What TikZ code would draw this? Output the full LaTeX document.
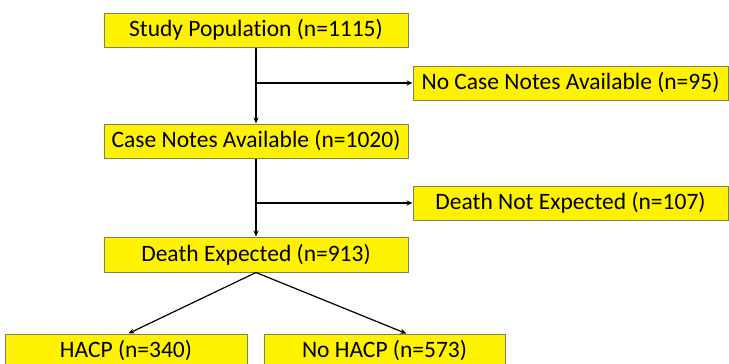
\documentclass[tikz,border=0pt]{standalone}
\usepackage{fontspec}
\setmainfont[Ligatures=NoCommon]{Carlito}
\usetikzlibrary{arrows.meta,calc}
\definecolor{boxline}{RGB}{130,130,80}
\tikzset{
  fbox/.style={draw=boxline, line width=1pt, fill=yellow, inner sep=0pt,
    minimum height=34pt, font=\fontsize{23.5}{26}\selectfont},
  conn/.style={line width=1.2pt, -{Stealth[length=6pt,width=5pt]}}
}
\begin{document}
\begin{tikzpicture}[x=1pt,y=-1pt]
\useasboundingbox (0,0) rectangle (729,364);
\clip (0,0) rectangle (729,364);
\node[fbox, minimum width=304pt] (sp) at (256,30) {Study Population (n=1115)};
\node[fbox, minimum width=315pt] (ncn) at (570.5,83) {No Case Notes Available (n=95)};
\node[fbox, minimum width=304pt] (cna) at (256,141) {Case Notes Available (n=1020)};
\node[fbox, minimum width=315pt] (dne) at (570.5,203) {Death Not Expected (n=107)};
\node[fbox, minimum width=304pt, minimum height=35pt] (de) at (256,254.5) {Death Expected (n=913)};
\node[fbox, minimum width=242pt, minimum height=34pt] (hacp) at (126,351) {HACP (n=340)};
\node[fbox, minimum width=241pt, minimum height=34pt] (nohacp) at (384.5,351) {No HACP (n=573)};
\coordinate (b1) at (256,83);
\coordinate (b2) at (256,203);
\draw[conn] (sp.south) -- (cna.north);
\draw[conn] (b1) -- (ncn.west);
\draw[conn] (cna.south) -- (de.north);
\draw[conn] (b2) -- (dne.west);
\draw[conn] (de.south) -- ($(hacp.north west)!0.51!(hacp.north east)$);
\draw[conn] (de.south) -- ($(nohacp.north west)!0.59!(nohacp.north east)$);
\end{tikzpicture}
\end{document}
